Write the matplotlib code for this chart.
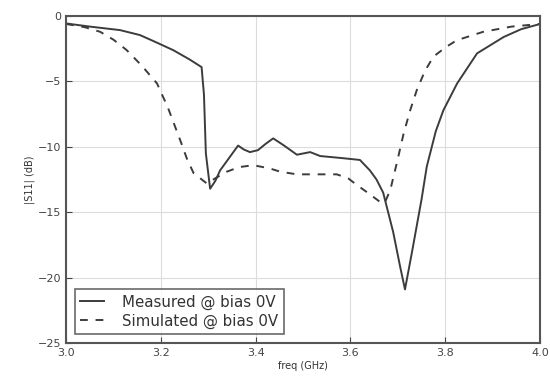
import numpy as np
import matplotlib
matplotlib.use('Agg')
import matplotlib.pyplot as plt

# measured curve
freq_meas = [3.0, 3.05, 3.114, 3.156, 3.19, 3.226, 3.26, 3.286, 3.291, 3.295, 3.304,
             3.315, 3.325, 3.345, 3.363, 3.375, 3.388, 3.405, 3.42, 3.437, 3.46,
             3.487, 3.515, 3.536, 3.58, 3.62, 3.641, 3.655, 3.669, 3.69, 3.705,
             3.715, 3.73, 3.75, 3.761, 3.78, 3.796, 3.825, 3.867, 3.923, 3.96, 4.0]
s11_meas = [-0.56, -0.8, -1.07, -1.45, -2.0, -2.6, -3.3, -3.9, -6.0, -10.5, -13.2,
            -12.6, -11.8, -10.8, -9.9, -10.2, -10.4, -10.25, -9.8, -9.35, -9.9,
            -10.6, -10.4, -10.7, -10.85, -11.0, -11.8, -12.5, -13.5, -16.5, -19.2,
            -20.9, -18.0, -14.0, -11.5, -8.8, -7.2, -5.15, -2.85, -1.6, -1.0, -0.6]

# simulated curve
freq_sim = [3.0, 3.04, 3.072, 3.1, 3.128, 3.16, 3.192, 3.215, 3.241, 3.255, 3.269,
            3.297, 3.315, 3.339, 3.365, 3.395, 3.43, 3.452, 3.487, 3.53, 3.571,
            3.595, 3.613, 3.64, 3.662, 3.672, 3.684, 3.698, 3.712, 3.726, 3.74,
            3.757, 3.775, 3.8, 3.824, 3.88, 3.94, 4.0]
s11_sim = [-0.6, -0.85, -1.2, -1.8, -2.6, -3.8, -5.15, -7.0, -9.5, -10.9, -12.0,
           -12.8, -12.4, -11.9, -11.55, -11.4, -11.65, -11.9, -12.1, -12.1, -12.1,
           -12.4, -12.9, -13.6, -14.2, -14.3, -13.3, -11.2, -9.0, -7.2, -5.65,
           -4.2, -3.1, -2.4, -1.85, -1.2, -0.8, -0.6]

xticks = [3.0, 3.2, 3.4, 3.6, 3.8, 4.0]
yticks = [0, -5, -10, -15, -20, -25]

fig = plt.figure(figsize=(5.5, 3.81), dpi=100)
ax = fig.add_axes([0.12, 0.0997, 0.862, 0.858])

line_col = '#3c3c3c'
ax.plot(freq_meas, s11_meas, '-', color=line_col, lw=1.4, label='Measured @ bias 0V')
ax.plot(freq_sim, s11_sim, '--', color=line_col, lw=1.4, dashes=(4, 4),
        label='Simulated @ bias 0V')

ax.set_xlim(3.0, 4.0)
ax.set_ylim(-25, 0)
ax.set_xticks(xticks)
ax.set_yticks(yticks)
ax.set_xticklabels(['%.1f' % t for t in xticks])
ax.grid(True, color='#dcdcdc', lw=0.8)
ax.tick_params(direction='in', labelsize=8, colors='#444444', length=4)
for sp in ax.spines.values():
    sp.set_color('#555555')
    sp.set_linewidth(1.5)

ax.set_xlabel('freq (GHz)', fontsize=7, color='#333333', labelpad=2)
ax.set_ylabel('|S11| (dB)', fontsize=7, color='#333333', labelpad=2)

leg = ax.legend(loc='lower left', fontsize=10.8, fancybox=False, handlelength=1.6,
                handletextpad=1.2, borderpad=0.35, labelspacing=0.25,
                borderaxespad=0.6)
leg.get_frame().set_edgecolor('#444444')
leg.get_frame().set_linewidth(1.2)
for t in leg.get_texts():
    t.set_color('#333333')

fig.savefig('out.png', dpi=100)
